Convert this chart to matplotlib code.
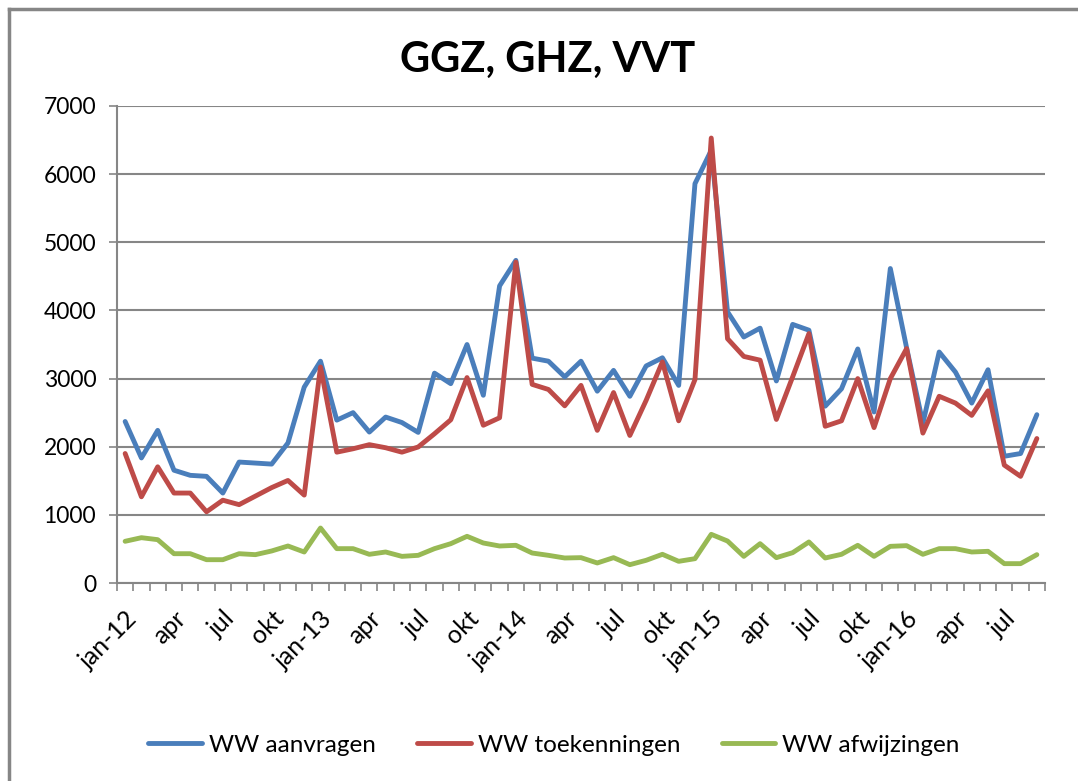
import matplotlib
matplotlib.use("Agg")
import matplotlib.pyplot as plt
from matplotlib.lines import Line2D

plt.rcParams['font.family'] = ['Lato', 'DejaVu Sans']

months = ["jan-12", "feb", "mrt", "apr", "mei", "jun", "jul", "aug", "sep", "okt", "nov", "dec",
          "jan-13", "feb", "mrt", "apr", "mei", "jun", "jul", "aug", "sep", "okt", "nov", "dec",
          "jan-14", "feb", "mrt", "apr", "mei", "jun", "jul", "aug", "sep", "okt", "nov", "dec",
          "jan-15", "feb", "mrt", "apr", "mei", "jun", "jul", "aug", "sep", "okt", "nov", "dec",
          "jan-16", "feb", "mrt", "apr", "mei", "jun", "jul", "aug", "sep"]

aanvragen = [2370, 1835, 2240, 1655, 1580, 1565, 1320, 1775, 1760, 1745, 2055, 2875,
             3255, 2390, 2500, 2215, 2435, 2355, 2210, 3080, 2925, 3500, 2755, 4360,
             4735, 3300, 3255, 3025, 3255, 2815, 3120, 2740, 3185, 3305, 2900, 5860,
             6350, 3980, 3610, 3740, 2965, 3795, 3710, 2595, 2850, 3435, 2510, 4615,
             3450, 2345, 3390, 3095, 2640, 3130, 1860, 1900, 2470]

toekenningen = [1900, 1265, 1705, 1320, 1320, 1045, 1215, 1150, 1275, 1400, 1505, 1290,
                3170, 1920, 1970, 2030, 1985, 1920, 1996, 2190, 2395, 3015, 2315, 2425,
                4710, 2915, 2840, 2600, 2900, 2240, 2795, 2165, 2680, 3245, 2380, 2985,
                6530, 3585, 3325, 3270, 2400, 3025, 3660, 2300, 2380, 3000, 2280, 3000,
                3440, 2200, 2740, 2640, 2460, 2820, 1730, 1565, 2120]

afwijzingen = [612, 665, 636, 430, 430, 342, 342, 430, 416, 470, 543, 455,
               807, 504, 504, 421, 455, 391, 406, 504, 577, 685, 587, 543,
               553, 440, 406, 367, 372, 294, 372, 269, 333, 421, 318, 357,
               714, 616, 391, 577, 372, 445, 602, 367, 421, 553, 391, 538,
               548, 421, 504, 504, 455, 465, 284, 284, 416]

series_names = ["WW aanvragen", "WW toekenningen", "WW afwijzingen"]
colors = ["#4A7EBB", "#BE4B48", "#98B954"]

fig = plt.figure(figsize=(10.78, 7.81), dpi=100)
ax = fig.add_axes([117/1078, 1-583/781, (1045-117)/1078, (583-106)/781])

n = len(months)
xs = [i + 0.5 for i in range(n)]
for vals, name, c in zip([aanvragen, toekenningen, afwijzingen], series_names, colors):
    ax.plot(xs, vals, color=c, lw=3.5, label=name, solid_joinstyle='round', solid_capstyle='round', zorder=3)

ax.set_xlim(0, n)
ax.set_ylim(0, 7000)
ax.set_yticks(range(0, 7001, 1000))
ax.yaxis.grid(True, color='#868686', lw=1.5)
ax.set_axisbelow(True)
ax.tick_params(axis='y', labelsize=16.5, length=6, color='#868686', width=1.2, pad=9)

ax.set_xticks(range(0, n + 1), minor=True)
ax.set_xticks([i + 0.5 for i in range(0, n, 3)])
ax.set_xticklabels([months[i] for i in range(0, n, 3)], rotation=45, ha='right', rotation_mode='anchor')
ax.tick_params(axis='x', which='major', length=0, labelsize=18, pad=17)
ax.tick_params(axis='x', which='minor', length=6, color='#868686', width=1.2)

for s in ['top', 'right']:
    ax.spines[s].set_visible(False)
for s in ['left', 'bottom']:
    ax.spines[s].set_color('#868686')
    ax.spines[s].set_linewidth(1.5)

fig.text(548/1078, 1-60/781, "GGZ, GHZ, VVT", ha='center', va='center', fontsize=30, fontweight='bold')

fig.legend(loc='center', bbox_to_anchor=(554/1078, 1-745/781), ncol=3, frameon=False,
           fontsize=17.5, handlelength=2.2, handletextpad=0.3, columnspacing=1.7)

# outer chart border (top and left visible)
fig.add_artist(Line2D([9/1078, 9/1078], [0, 1-9/781], color='#868686', lw=2.5, transform=fig.transFigure))
fig.add_artist(Line2D([9/1078, 1], [1-9/781, 1-9/781], color='#868686', lw=2.5, transform=fig.transFigure))

fig.savefig("out.png", dpi=100)
